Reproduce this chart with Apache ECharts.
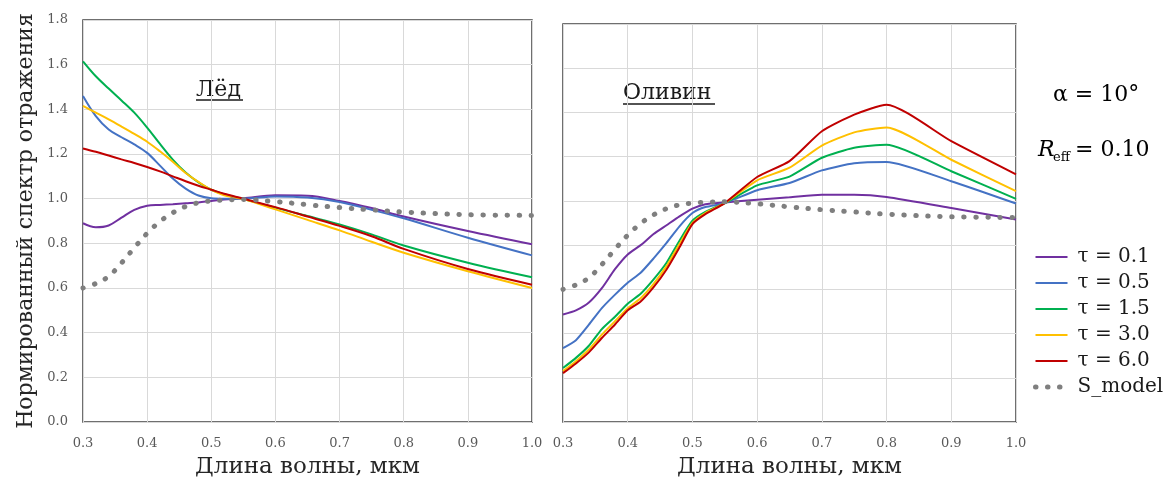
<!DOCTYPE html>
<html>
<head>
<meta charset="utf-8">
<script src="https://cdn.jsdelivr.net/npm/echarts@6/dist/echarts.min.js"></script>
<style>
html, body { margin: 0; padding: 0; background: #fff; }
#chart { width: 1168px; height: 484px; }
</style>
</head>
<body>
<div id="chart"></div>
<script>
// wavelength, um
var wavelength = [0.3, 0.32, 0.34, 0.36, 0.38, 0.4, 0.42, 0.44, 0.46, 0.48, 0.5, 0.52, 0.55, 0.6, 0.65, 0.7, 0.75, 0.8, 0.9, 1.0];

var names = ['τ = 0.1', 'τ = 0.5', 'τ = 1.5', 'τ = 3.0', 'τ = 6.0', 'S_model'];
var colors = ['#7030A0', '#4472C4', '#00B050', '#FFC000', '#C00000', '#7F7F7F'];

// Лёд
var iceTau01 = [0.89, 0.872, 0.88, 0.915, 0.95, 0.968, 0.972, 0.975, 0.979, 0.983, 0.99, 0.996, 1.002, 1.015, 1.013, 0.99, 0.958, 0.92, 0.855, 0.796];
var iceTau05 = [1.46, 1.37, 1.31, 1.275, 1.243, 1.205, 1.148, 1.09, 1.045, 1.014, 1.002, 1.0, 1.0, 1.01, 1.005, 0.985, 0.95, 0.912, 0.825, 0.746];
var iceTau15 = [1.615, 1.548, 1.493, 1.44, 1.385, 1.318, 1.245, 1.175, 1.117, 1.073, 1.04, 1.02, 0.998, 0.96, 0.922, 0.885, 0.84, 0.79, 0.713, 0.648];
var iceTau30 = [1.415, 1.385, 1.355, 1.323, 1.29, 1.255, 1.212, 1.165, 1.115, 1.075, 1.04, 1.015, 0.998, 0.952, 0.905, 0.858, 0.807, 0.758, 0.675, 0.6];
var iceTau60 = [1.225, 1.21, 1.193, 1.176, 1.16, 1.142, 1.122, 1.1, 1.078, 1.058, 1.04, 1.022, 1.0, 0.962, 0.92, 0.878, 0.832, 0.775, 0.685, 0.615];

// Оливин
var olivTau01 = [0.486, 0.505, 0.54, 0.605, 0.69, 0.758, 0.8, 0.85, 0.89, 0.93, 0.965, 0.985, 0.993, 1.005, 1.016, 1.028, 1.028, 1.018, 0.968, 0.916];
var olivTau05 = [0.334, 0.37, 0.44, 0.515, 0.575, 0.63, 0.675, 0.74, 0.81, 0.885, 0.945, 0.972, 0.99, 1.048, 1.081, 1.138, 1.17, 1.176, 1.089, 0.988];
var olivTau15 = [0.244, 0.29, 0.345, 0.42, 0.475, 0.535, 0.58, 0.645, 0.72, 0.82, 0.91, 0.95, 0.99, 1.07, 1.11, 1.195, 1.24, 1.254, 1.134, 1.009];
var olivTau30 = [0.23, 0.275, 0.328, 0.395, 0.455, 0.515, 0.56, 0.625, 0.705, 0.805, 0.9, 0.945, 0.99, 1.093, 1.15, 1.25, 1.31, 1.332, 1.186, 1.044];
var olivTau60 = [0.221, 0.265, 0.315, 0.38, 0.44, 0.505, 0.545, 0.61, 0.69, 0.79, 0.895, 0.94, 0.99, 1.108, 1.18, 1.315, 1.39, 1.435, 1.27, 1.12];

var sModel = [0.6, 0.62, 0.652, 0.712, 0.78, 0.845, 0.898, 0.937, 0.965, 0.982, 0.99, 0.994, 0.996, 0.987, 0.973, 0.96, 0.95, 0.94, 0.928, 0.925];

var serif = 'DejaVu Serif';
var dots = { width: 5, color: colors[5], type: [0.5, 11.5], cap: 'round' };

function pairs(ys) {
    var out = [];
    for (var i = 0; i < wavelength.length; i++) out.push([wavelength[i], ys[i]]);
    return out;
}

function makeSeries(idx, list, smooth) {
    var res = [];
    for (var i = 0; i < list.length; i++) {
        res.push({
            name: names[i],
            type: 'line',
            xAxisIndex: idx,
            yAxisIndex: idx,
            data: pairs(list[i]),
            smooth: smooth,
            symbol: 'none',
            color: colors[i],
            lineStyle: { width: 2, color: colors[i] }
        });
    }
    res.push({
        name: names[5],
        type: 'line',
        xAxisIndex: idx,
        yAxisIndex: idx,
        data: pairs(sModel),
        smooth: 0.35,
        symbol: 'none',
        color: colors[5],
        lineStyle: dots
    });
    return res;
}

function xAx(idx) {
    return {
        type: 'value', gridIndex: idx, min: 0.3, max: 1.0, interval: 0.1,
        axisLine: { show: false }, axisTick: { show: false },
        splitLine: { lineStyle: { color: '#d9d9d9', width: 1 } },
        axisLabel: { color: '#595959', fontFamily: serif, fontSize: 13, margin: 15,
            formatter: function (v) { return v.toFixed(1); } },
        name: 'Длина волны, мкм', nameLocation: 'middle', nameGap: 34,
        nameTextStyle: { color: '#262626', fontFamily: serif, fontSize: 23 }
    };
}

function yAx(idx, labels) {
    var ax = {
        type: 'value', gridIndex: idx, min: 0, max: 1.8, interval: 0.2,
        axisLine: { show: false }, axisTick: { show: false },
        splitLine: { lineStyle: { color: '#d9d9d9', width: 1 } },
        axisLabel: { show: labels, color: '#595959', fontFamily: serif, fontSize: 13, margin: 15,
            formatter: function (v) { return v.toFixed(1); } }
    };
    if (labels) {
        ax.name = 'Нормированный спектр отражения';
        ax.nameLocation = 'middle';
        ax.nameGap = 46;
        ax.nameTextStyle = { color: '#262626', fontFamily: serif, fontSize: 22 };
    }
    return ax;
}

var legendData = names.map(function (n, i) {
    return i === 5 ? { name: n, lineStyle: dots } : { name: n };
});

var chart = echarts.init(document.getElementById('chart'));

var option = {
    backgroundColor: '#fff',
    animation: false,
    grid: [
        { left: 83, top: 20, width: 449, height: 402, show: true, borderColor: '#404040', borderWidth: 1.5 },
        { left: 563, top: 24, width: 453, height: 398, show: true, borderColor: '#404040', borderWidth: 1.5 }
    ],
    xAxis: [xAx(0), xAx(1)],
    yAxis: [yAx(0, true), yAx(1, false)],
    legend: {
        orient: 'vertical', left: 1033, top: 247, padding: 0,
        data: legendData, itemWidth: 32, itemHeight: 14, itemGap: 6,
        itemStyle: { opacity: 0 },
        textStyle: { color: '#1a1a1a', fontFamily: serif, fontSize: 20, lineHeight: 20, padding: [0, 0, 0, 5] }
    },
    graphic: [
        { type: 'text', left: 196, top: 79, style: { text: 'Лёд', fill: '#1a1a1a', font: '22px "DejaVu Serif"' } },
        { type: 'line', shape: { x1: 196, y1: 100, x2: 243, y2: 100 }, style: { stroke: '#1a1a1a', lineWidth: 1.5 } },
        { type: 'text', left: 623, top: 82, style: { text: 'Оливин', fill: '#1a1a1a', font: '22px "DejaVu Serif"' } },
        { type: 'line', shape: { x1: 623, y1: 104, x2: 715, y2: 104 }, style: { stroke: '#1a1a1a', lineWidth: 1.5 } },
        { type: 'text', left: 1053, top: 84, style: { text: 'α = 10°', fill: '#000', font: '22px "DejaVu Serif"' } },
        { type: 'text', left: 1038, top: 139, style: { text: 'R', fill: '#000', font: 'italic 22px "DejaVu Serif"' } },
        { type: 'text', left: 1053, top: 151, style: { text: 'eff', fill: '#000', font: '13px "DejaVu Serif"' } },
        { type: 'text', left: 1075, top: 139, style: { text: '= 0.10', fill: '#000', font: '22px "DejaVu Serif"' } }
    ],
    series: makeSeries(0, [iceTau01, iceTau05, iceTau15, iceTau30, iceTau60], 0.35)
        .concat(makeSeries(1, [olivTau01, olivTau05, olivTau15, olivTau30, olivTau60], 0.2))
};

chart.setOption(option);
</script>
</body>
</html>
